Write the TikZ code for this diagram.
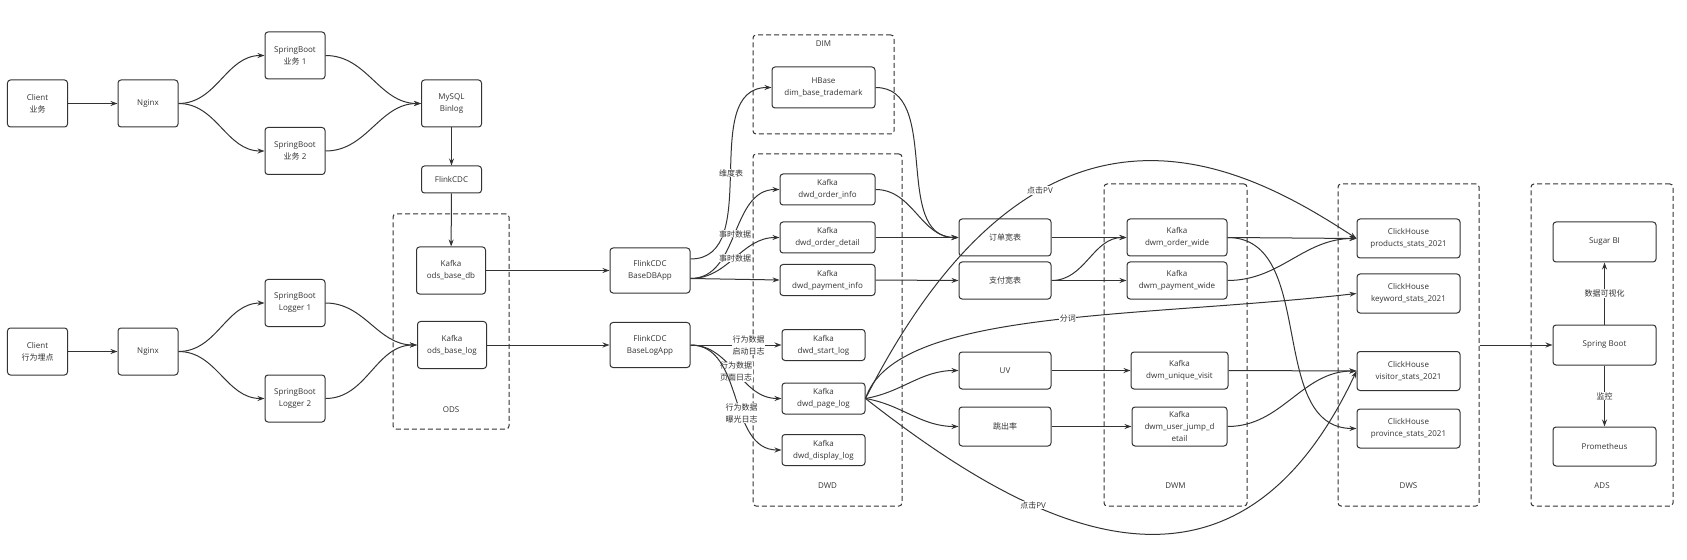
\documentclass[tikz,border=0pt]{standalone}
\usepackage{fontspec}
\setmainfont{Open Sans}
\newfontfamily\cjk{Noto Sans CJK SC}
\usetikzlibrary{arrows.meta}
\definecolor{ink}{HTML}{333333}

\begin{document}
\begin{tikzpicture}[x=1bp, y=1bp, color=ink, line width=1bp,
   font=\fontsize{8bp}{12bp}\selectfont, >={Stealth[length=7bp,width=5bp]},
   box/.style={draw, rounded corners=3bp, fill=white, align=center, inner sep=1bp},
   src/.style={box, minimum width=60bp, minimum height=47bp},
   odsk/.style={box, minimum width=69bp, minimum height=47bp},
   app/.style={box, minimum width=80bp, minimum height=45bp},
   dwdk/.style={box, minimum width=95bp, minimum height=31bp},
   dwdl/.style={box, minimum width=83bp, minimum height=31bp},
   mid/.style={box, minimum width=92bp, minimum height=37bp},
   dwmk/.style={box, minimum width=100bp, minimum height=37bp},
   ch/.style={box, minimum width=103bp, minimum height=39bp},
   grp/.style={draw, dash pattern=on 5bp off 3bp, rounded corners=3bp, inner sep=0pt},
   lbl/.style={fill=white, inner sep=0.5bp, align=center}]
\useasboundingbox (0,0) rectangle (1687,-560);

% layers
\node[grp, minimum width=116bp, minimum height=215bp] (ods) at (451,-321.5) {};
\node[grp, minimum width=141bp, minimum height=99bp]  (dim) at (823.5,-84.5) {};
\node[grp, minimum width=149bp, minimum height=352bp] (dwd) at (827.5,-330) {};
\node[grp, minimum width=143bp, minimum height=322bp] (dwm) at (1175.5,-345) {};
\node[grp, minimum width=141bp, minimum height=322bp] (dws) at (1408.5,-345) {};
\node[grp, minimum width=142bp, minimum height=322bp] (ads) at (1602,-345) {};
\node (odsl) at ([yshift=20bp]ods.south) {ODS};
\node (diml) at ([yshift=-9bp]dim.north) {DIM};
\node (dwdl) at ([yshift=21bp]dwd.south) {DWD};
\node (dwml) at ([yshift=21bp]dwm.south) {DWM};
\node (dwsl) at ([yshift=21bp]dws.south) {DWS};
\node (adsl) at ([yshift=21bp]ads.south) {ADS};

% business data
\node[src] (client1) at (37.5,-103.5) {Client\\{\cjk 业务}};
\node[src] (nginx1)  at (148,-103.5) {Nginx};
\node[src] (sb1)     at (295,-55.5) {SpringBoot\\{\cjk 业务} 1};
\node[src] (sb2)     at (295,-151) {SpringBoot\\{\cjk 业务} 2};
\node[src] (mysql)   at (451.5,-103.5) {MySQL\\Binlog};
\node[src, minimum height=27bp] (cdc) at (451.5,-179.5) {FlinkCDC};

% behaviour logs
\node[src] (client2) at (37.5,-351.5) {Client\\{\cjk 行为埋点}};
\node[src] (nginx2)  at (148,-351.5) {Nginx};
\node[src] (sbl1)    at (295,-303) {SpringBoot\\Logger 1};
\node[src] (sbl2)    at (295,-398.5) {SpringBoot\\Logger 2};

\node[odsk] (odsdb)  at (451,-270.5) {Kafka\\ods\_base\_db};
\node[odsk] (odslog) at (452,-345) {Kafka\\ods\_base\_log};
\node[app] (dbapp)   at (650,-270.5) {FlinkCDC\\BaseDBApp};
\node[app] (logapp)  at (650,-345) {FlinkCDC\\BaseLogApp};

\node[box, minimum width=103bp, minimum height=41bp] (hbase) at (823.5,-87.5) {HBase\\dim\_base\_trademark};
\node[dwdk] (orderinfo)   at (827.5,-189.5) {Kafka\\dwd\_order\_info};
\node[dwdk] (orderdetail) at (827.5,-237.5) {Kafka\\dwd\_order\_detail};
\node[dwdk] (payinfo)     at (827.5,-280) {Kafka\\dwd\_payment\_info};
\node[dwdl] (startlog)    at (823.5,-345) {Kafka\\dwd\_start\_log};
\node[dwdl] (pagelog)     at (823.5,-398.5) {Kafka\\dwd\_page\_log};
\node[dwdl] (displaylog)  at (823.5,-450) {Kafka\\dwd\_display\_log};

\node[mid] (ow)   at (1005,-237.5) {\cjk 订单宽表};
\node[mid] (pw)   at (1005,-280.5) {\cjk 支付宽表};
\node[mid] (uv)   at (1005,-370.5) {UV};
\node[mid, minimum height=39bp] (jump) at (1005,-426.5) {\cjk 跳出率};

\node[dwmk] (dwmorder) at (1177,-237.5) {Kafka\\dwm\_order\_wide};
\node[dwmk] (dwmpay)   at (1177,-280.5) {Kafka\\dwm\_payment\_wide};
\node[dwmk, minimum width=97bp] (dwmuv) at (1179.5,-370.5) {Kafka\\dwm\_unique\_visit};
\node[dwmk, minimum width=95bp, minimum height=39bp] (dwmjump) at (1179.5,-426.5) {Kafka\\dwm\_user\_jump\_d\\etail};

\node[ch] (chprod) at (1408.5,-238.5) {ClickHouse\\products\_stats\_2021};
\node[ch] (chkw)   at (1408.5,-293.5) {ClickHouse\\keyword\_stats\_2021};
\node[ch] (chvis)  at (1408.5,-371) {ClickHouse\\visitor\_stats\_2021};
\node[ch] (chprov) at (1408.5,-428.5) {ClickHouse\\province\_stats\_2021};

\node[ch, minimum height=40bp] (sugar) at (1604.5,-242) {Sugar BI};
\node[ch, minimum height=40bp] (sboot) at (1604.5,-345) {Spring Boot};
\node[ch] (prom) at (1604.5,-446.5) {Prometheus};

% edges
\draw[->] (client1) -- (nginx1);
\draw[->] (nginx1.east) to[out=0,in=180] (sb1.west);
\draw[->] (nginx1.east) to[out=0,in=180] (sb2.west);
\draw[->] (sb1.east) to[out=0,in=180] (mysql.west);
\draw[->] (sb2.east) to[out=0,in=180] (mysql.west);
\draw[->] (mysql) -- (cdc);
\draw[->] (cdc) -- (odsdb);
\draw[->] (client2) -- (nginx2);
\draw[->] (nginx2.east) to[out=0,in=180] (sbl1.west);
\draw[->] (nginx2.east) to[out=0,in=180] (sbl2.west);
\draw[->] (sbl1.east) to[out=0,in=180] (odslog.west);
\draw[->] (sbl2.east) to[out=0,in=180] (odslog.west);
\draw[->] (odsdb) -- (dbapp);
\draw[->] (odslog) -- (logapp);

\draw[->] ([yshift=11.5bp]dbapp.east) to[out=0,in=180] node[lbl]{\cjk 维度表} (hbase.west);
\draw[->] ([yshift=-8bp]dbapp.east) to[out=0,in=180] node[lbl]{\cjk 事时数据} (orderinfo.west);
\draw[->] ([yshift=-8bp]dbapp.east) to[out=0,in=180] node[lbl]{\cjk 事时数据} (orderdetail.west);
\draw[->] ([yshift=-8bp]dbapp.east) -- (payinfo.west);
\draw[->] (logapp.east) -- node[lbl,pos=0.64]{{\cjk 行为数据}\\{\cjk 启动日志}} (startlog.west);
\draw[->] (logapp.east) to[out=0,in=180] node[lbl]{{\cjk 行为数据}\\{\cjk 页面日志}} (pagelog.west);
\draw[->] (logapp.east) to[out=0,in=180] node[lbl,pos=0.6]{{\cjk 行为数据}\\{\cjk 曝光日志}} (displaylog.west);

\draw[->] (hbase.east) to[out=0,in=180] (ow.west);
\draw[->] (orderinfo.east) to[out=0,in=180] (ow.west);
\draw[->] (orderdetail) -- (ow);
\draw[->] (payinfo.east) -- (pw.west);
\draw[->] (ow) -- (dwmorder);
\draw[->] (pw.east) to[out=0,in=180] (dwmorder.west);
\draw[->] (pw) -- (dwmpay);

\draw[->] (pagelog.east) to[out=10,in=180] (uv.west);
\draw[->] (pagelog.east) to[out=-10,in=180] (jump.west);
\draw[->] (uv) -- (dwmuv);
\draw[->] (jump) -- (dwmjump);
\draw[->] (pagelog.east) .. controls +(177,348) and +(-109,71) .. (chprod.west)
   node[lbl,pos=0.32]{{\cjk 点击}PV};
\draw[->] (pagelog.east) .. controls +(30,90) and +(-220,-25) .. (chkw.west)
   node[lbl,pos=0.55]{\cjk 分词};
\draw[->] (pagelog.east) .. controls +(157.6,-123.2) and +(-126,-269) .. (chvis.west)
   node[lbl,pos=0.33]{{\cjk 点击}PV};

\draw[->] (dwmorder.east) -- (chprod.west);
\draw[->] (dwmpay.east) to[out=0,in=180] (chprod.west);
\draw[->] (dwmorder.east) to[out=0,in=180] (chprov.west);
\draw[->] (dwmuv.east) -- (chvis.west);
\draw[->] (dwmjump.east) to[out=0,in=180] (chvis.west);

\draw[->] (dws.east) -- (sboot.west);
\draw[->] (sboot) -- node[lbl]{\cjk 数据可视化} (sugar);
\draw[->] (sboot) -- node[lbl]{\cjk 监控} (prom);
\end{tikzpicture}
\end{document}
